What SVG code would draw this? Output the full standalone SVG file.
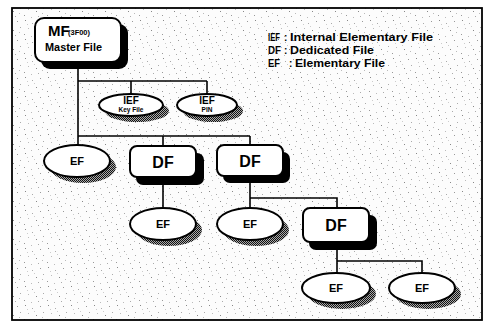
<svg xmlns="http://www.w3.org/2000/svg" width="485" height="322" viewBox="0 0 485 322">
<defs>
<pattern id="speck" width="23" height="19" patternUnits="userSpaceOnUse">
<rect width="23" height="19" fill="#fcfcfc"/>
<rect x="2" y="1" width="1" height="1" fill="#888"/>
<rect x="9" y="4" width="1" height="1" fill="#aaa"/>
<rect x="17" y="2" width="1" height="1" fill="#999"/>
<rect x="5" y="9" width="1" height="1" fill="#bbb"/>
<rect x="13" y="11" width="1" height="1" fill="#888"/>
<rect x="20" y="8" width="1" height="1" fill="#aaa"/>
<rect x="1" y="15" width="1" height="1" fill="#999"/>
<rect x="8" y="17" width="1" height="1" fill="#bbb"/>
<rect x="15" y="16" width="1" height="1" fill="#aaa"/>
<rect x="11" y="7" width="1" height="1" fill="#ccc"/>
<rect x="19" y="13" width="1" height="1" fill="#bbb"/>
<rect x="4" y="5" width="1" height="1" fill="#ccc"/>
</pattern>
<pattern id="dither" width="2" height="2" patternUnits="userSpaceOnUse">
<rect width="2" height="2" fill="#aaa"/>
<rect x="0" y="0" width="1" height="1" fill="#111"/>
<rect x="1" y="1" width="1" height="1" fill="#111"/>
</pattern>
</defs>
<style>
.box{fill:#fff;stroke:#000;stroke-width:2}
.shd{fill:#000}
.eshd{fill:url(#dither)}
.ell{fill:#fff;stroke:#000;stroke-width:2}
.ln{fill:none;stroke:#000;stroke-width:1.6}
text{font-family:"Liberation Sans",Arial,sans-serif;font-weight:bold;fill:#000}
.df{font-size:16px;text-anchor:middle}
.ef{font-size:11px;text-anchor:middle}
.ief{font-size:10px;text-anchor:middle}
.sm{font-size:6.5px;text-anchor:middle}
.lg{font-size:10px}
</style>
<rect x="12" y="8" width="470" height="312" fill="url(#speck)" stroke="#000" stroke-width="1.8"/>

<g id="connectors">
<path class="ln" d="M78,63 V145"/>
<path class="ln" d="M78,81 H207 M131,81 V95 M207,81 V95"/>
<path class="ln" d="M78,136 H250 M163,136 V146 M250,136 V145"/>
<path class="ln" d="M163,178 V208"/>
<path class="ln" d="M250,176 V208 M250,198 H337 V208"/>
<path class="ln" d="M337,242 V273 M337,261 H422 V273"/>
</g>

<g id="legend">
<text class="lg" x="268" y="41" textLength="12" lengthAdjust="spacingAndGlyphs">IEF</text><text class="lg" x="284" y="41">:</text><text class="lg" x="290" y="41" textLength="143" lengthAdjust="spacingAndGlyphs">Internal Elementary File</text>
<text class="lg" x="268" y="54" textLength="13" lengthAdjust="spacingAndGlyphs">DF</text><text class="lg" x="284" y="54">:</text><text class="lg" x="290" y="54" textLength="84" lengthAdjust="spacingAndGlyphs">Dedicated File</text>
<text class="lg" x="268" y="67" textLength="12" lengthAdjust="spacingAndGlyphs">EF</text><text class="lg" x="289" y="67">:</text><text class="lg" x="295" y="67" textLength="90" lengthAdjust="spacingAndGlyphs">Elementary File</text>
</g>

<g id="mf">
<rect class="shd" x="41" y="24" width="87" height="45" rx="9"/>
<rect class="box" x="35" y="18" width="86" height="44" rx="9"/>
<text x="48" y="36" style="font-size:15px">MF</text>
<text x="68" y="35" style="font-size:7px" textLength="22" lengthAdjust="spacingAndGlyphs">(3F00)</text>
<text x="45" y="51" style="font-size:10px" textLength="57" lengthAdjust="spacingAndGlyphs">Master File</text>
</g>

<g id="ief-key">
<ellipse class="eshd" cx="137" cy="111" rx="32" ry="11"/>
<ellipse class="ell" cx="131" cy="105" rx="32" ry="11"/>
<text class="ief" x="131" y="104">IEF</text>
<text class="sm" x="131" y="112">Key File</text>
</g>

<g id="ief-pin">
<ellipse class="eshd" cx="213" cy="111" rx="30" ry="11"/>
<ellipse class="ell" cx="207" cy="105" rx="30" ry="11"/>
<text class="ief" x="207" y="104">IEF</text>
<text class="sm" x="207" y="112">PIN</text>
</g>

<g id="ef1">
<ellipse class="eshd" cx="83" cy="167" rx="33" ry="16"/>
<ellipse class="ell" cx="77" cy="161" rx="33" ry="16"/>
<text class="ef" x="77" y="165">EF</text>
</g>

<g id="df1">
<rect class="shd" x="136" y="153" width="68" height="32" rx="7"/>
<rect class="box" x="130" y="146" width="66" height="31" rx="7"/>
<text class="df" x="163" y="168">DF</text>
</g>

<g id="df2">
<rect class="shd" x="223" y="152" width="67" height="31" rx="7"/>
<rect class="box" x="217" y="145" width="66" height="31" rx="7"/>
<text class="df" x="250" y="167">DF</text>
</g>

<g id="ef2">
<ellipse class="eshd" cx="169" cy="230" rx="33" ry="16"/>
<ellipse class="ell" cx="163" cy="224" rx="33" ry="16"/>
<text class="ef" x="163" y="228">EF</text>
</g>

<g id="ef3">
<ellipse class="eshd" cx="256" cy="230" rx="33" ry="16"/>
<ellipse class="ell" cx="250" cy="224" rx="33" ry="16"/>
<text class="ef" x="250" y="228">EF</text>
</g>

<g id="df3">
<rect class="shd" x="309" y="215" width="68" height="35" rx="7"/>
<rect class="box" x="303" y="208" width="66" height="34" rx="7"/>
<text class="df" x="336" y="231">DF</text>
</g>

<g id="ef4">
<ellipse class="eshd" cx="342" cy="294" rx="34" ry="15"/>
<ellipse class="ell" cx="336" cy="288" rx="34" ry="15"/>
<text class="ef" x="336" y="292">EF</text>
</g>

<g id="ef5">
<ellipse class="eshd" cx="428" cy="294" rx="33" ry="15"/>
<ellipse class="ell" cx="422" cy="288" rx="33" ry="15"/>
<text class="ef" x="422" y="292">EF</text>
</g>
</svg>
